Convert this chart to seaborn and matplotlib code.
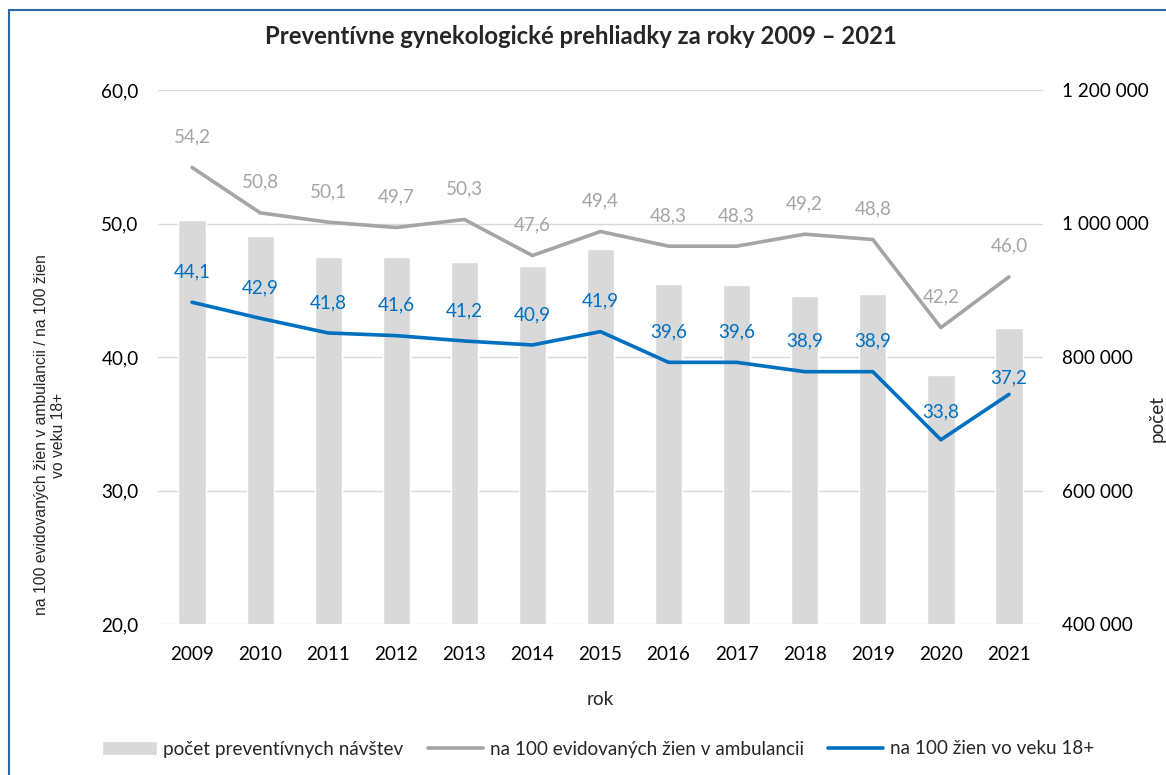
import numpy as np
import pandas as pd
import seaborn as sns
import matplotlib.pyplot as plt
from matplotlib.patches import Rectangle
from matplotlib.ticker import FuncFormatter, MultipleLocator

# Data
years = ['2009', '2010', '2011', '2012', '2013', '2014', '2015',
         '2016', '2017', '2018', '2019', '2020', '2021']
visits = [1005000, 981800, 950300, 949400, 942800, 935900, 961300,
          909400, 907900, 891800, 893800, 773000, 844000]
per_amb = [54.2, 50.8, 50.1, 49.7, 50.3, 47.6, 49.4, 48.3, 48.3, 49.2, 48.8, 42.2, 46.0]
per_18 = [44.1, 42.9, 41.8, 41.6, 41.2, 40.9, 41.9, 39.6, 39.6, 38.9, 38.9, 33.8, 37.2]

lbl_bar = 'počet preventívnych návštev'
lbl_amb = 'na 100 evidovaných žien v ambulancii'
lbl_18 = 'na 100 žien vo veku 18+'

sns.set_theme(style='white')
plt.rcParams['font.family'] = ['Lato', 'DejaVu Sans']

df = pd.DataFrame({'rok': years, 'pos': np.arange(len(years)),
                   'visits': visits, 'amb': per_amb, 'v18': per_18})

BAR = '#D9D9D9'
GRAY = '#A5A5A5'
BLUE = '#0070C0'
FS = 13.6

fig = plt.figure(figsize=(11.66, 7.75), dpi=100)
ax = fig.add_axes([158/1166, 1 - 624/775, (1043-158)/1166, (624-90)/775])
ax2 = ax.twinx()

# bars on right axis
sns.barplot(data=df, x='rok', y='visits', ax=ax2, color=BAR, saturation=1,
            width=0.4, label=lbl_bar, zorder=2)
ax2.set_ylim(400000, 1200000)
ax2.yaxis.set_major_locator(MultipleLocator(200000))
ax2.yaxis.set_major_formatter(FuncFormatter(lambda v, p: f'{v:,.0f}'.replace(',', ' ')))
ax2.grid(axis='y', color='#D9D9D9', lw=1, zorder=0)
ax2.set_axisbelow(True)
ax2.set_ylabel('')

# lines on left axis, drawn above the bars
ax.set_zorder(ax2.get_zorder() + 1)
ax.patch.set_visible(False)
sns.lineplot(data=df, x='pos', y='amb', ax=ax, color=GRAY, lw=2.6, label=lbl_amb)
sns.lineplot(data=df, x='pos', y='v18', ax=ax, color=BLUE, lw=2.6, label=lbl_18)
ax.set_ylim(20, 60)
ax.yaxis.set_major_locator(MultipleLocator(10))
ax.yaxis.set_major_formatter(FuncFormatter(lambda v, p: f'{v:.1f}'.replace('.', ',')))
ax.set_xlim(-0.5, len(years) - 0.5)
ax.set_xticks(df['pos'], years)

for i, v in enumerate(per_amb):
    ax.annotate(f'{v:.1f}'.replace('.', ','), (i, v), xytext=(0, 22),
                textcoords='offset points', ha='center', va='center',
                color=GRAY, fontsize=FS)
for i, v in enumerate(per_18):
    off = 22
    if years[i] == '2020':
        off = 20
    elif years[i] == '2021':
        off = 12
    ax.annotate(f'{v:.1f}'.replace('.', ','), (i, v), xytext=(0, off),
                textcoords='offset points', ha='center', va='center',
                color=BLUE, fontsize=FS)

for a in (ax, ax2):
    for s in a.spines.values():
        s.set_visible(False)
    a.tick_params(length=0, labelsize=FS, colors='black')
ax.tick_params(axis='y', pad=14)
ax2.tick_params(axis='y', pad=14)
ax.tick_params(axis='x', pad=16)
ax.set_ylabel('')
ax.set_xlabel('rok', fontsize=FS, labelpad=20)

fig.text(50/1166, 340/775,
         'na 100 evidovaných žien v ambulancii / na 100 žien\nvo veku 18+',
         rotation=90, ha='center', va='center', multialignment='center',
         fontsize=11.3, family=['Liberation Sans', 'DejaVu Sans'])
fig.text(1157/1166, 357/775, 'počet', rotation=90, ha='center', va='center',
         fontsize=FS)

fig.suptitle('Preventívne gynekologické prehliadky za roky 2009 – 2021',
             x=581/1166, y=1 - 36/775, va='center', fontsize=17.2,
             fontweight='bold')

# legend
h1, l1 = ax2.get_legend_handles_labels()
h2, l2 = ax.get_legend_handles_labels()
ax.get_legend().remove()
if ax2.get_legend() is not None:
    ax2.get_legend().remove()
fig.legend(h1 + h2, l1 + l2, loc='center', bbox_to_anchor=(598/1166, 1 - 749/775),
           ncol=3, frameon=False, fontsize=FS, handlelength=2.9,
           handleheight=0.7, handletextpad=0.35, columnspacing=1.3)

# chart border
fig.patches.append(Rectangle((9/1166, -0.05), 1.1, 1 - 10/775 + 0.05,
                             transform=fig.transFigure, fill=False,
                             edgecolor='#2E67A5', lw=1.5))

fig.savefig('out.png', dpi=100)
